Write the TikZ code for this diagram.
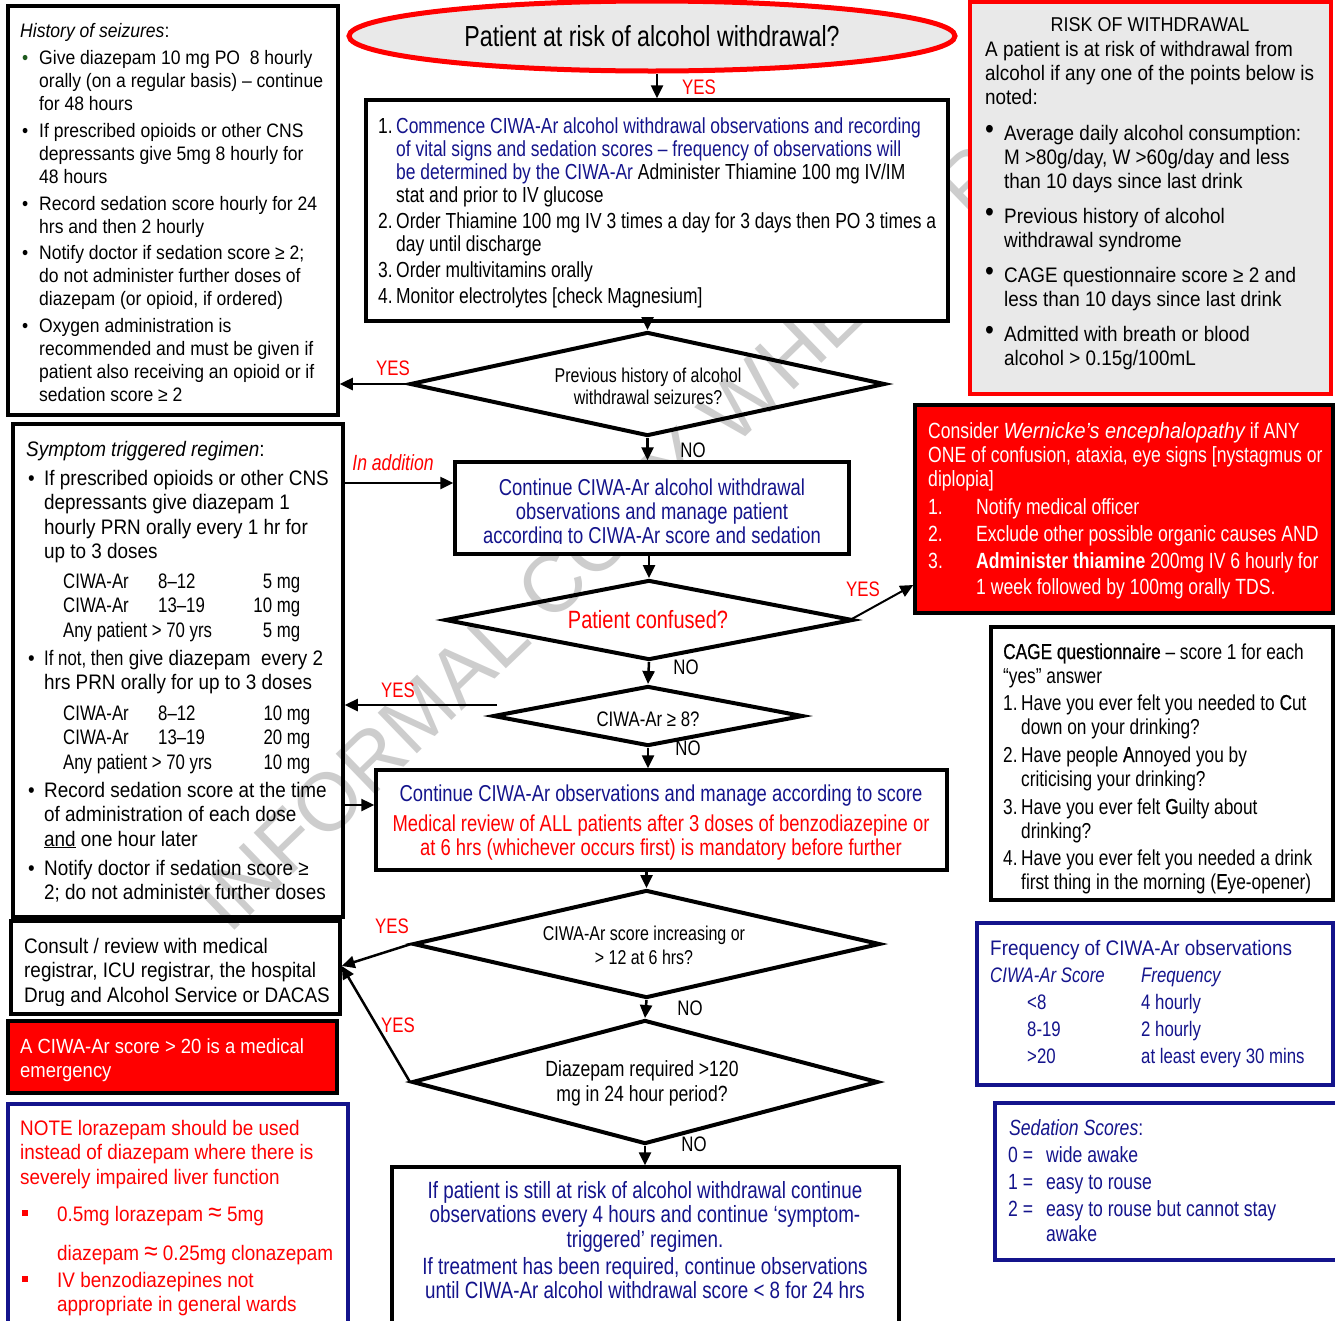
\documentclass[tikz,border=0pt]{standalone}
\usepackage{fontspec}
\setmainfont[FakeStretch=0.9]{Liberation Sans}
\newfontfamily\nar[FakeStretch=0.8]{Liberation Sans}
\newfontfamily\semib[FakeStretch=0.8,FakeBold=0.7]{Liberation Sans}
\newfontfamily\wmfont{Liberation Sans}
\usetikzlibrary{shapes.geometric,arrows.meta}
\definecolor{navy}{RGB}{20,20,140}
\definecolor{wred}{RGB}{255,0,0}
\definecolor{lgrey}{RGB}{233,233,233}
\definecolor{wmgrey}{RGB}{205,205,205}
\definecolor{bgreen}{RGB}{30,90,30}
\newcommand{\fsz}[2]{\fontsize{#1}{#2}\selectfont}
\newcommand{\hb}[1]{\makebox[#1][l]}
\newcommand{\mc}[1]{\multicolumn{2}{@{}l@{}}{#1}}
\newcommand{\apx}{{\fsz{27}{20}≈}}
\tikzset{
  box/.style={draw=black, line width=3.5pt, inner sep=0pt},
  dia/.style={diamond, draw=black, line width=4pt, inner sep=0pt},
  arr/.style={line width=2.5pt, -{Triangle[length=13pt,width=12pt]}},
  txt/.style={inner sep=0pt, anchor=base west},
  ctxt/.style={inner sep=0pt, anchor=base},
  yeslbl/.style={inner sep=0pt, anchor=base, text=wred, font=\nar\fsz{21}{21}},
  nolbl/.style={inner sep=0pt, anchor=base, font=\nar\fsz{21}{21}},
}
\begin{document}
\begin{tikzpicture}[x=1pt,y=-1pt]
\useasboundingbox (0,0) rectangle (1335,1320);
\fill[white] (0,0) rectangle (1335,1320);

% watermark
\begin{scope}
\clip (0,0) rectangle (1335,1320);
\node[inner sep=0pt, anchor=base west, rotate=44, text=wmgrey] (wm) at (229,936)
  {\wmfont\fsz{82}{82}INFORMAL COPY WHEN PRINTED};
\end{scope}

% boxes
\node[box, minimum width=330pt, minimum height=409pt] (hist) at (173,210.5) {};
\node[box, minimum width=330pt, minimum height=493pt] (sym) at (178,670.5) {};
\node[box, minimum width=329pt, minimum height=93pt] (cons) at (175.5,967.5) {};
\node[box, fill=wred, minimum width=329pt, minimum height=72pt] (emer) at (172.5,1057) {};
\node[box, draw=navy, minimum width=340pt, minimum height=226pt] (note) at (178,1217) {};
\node[box, fill=white, minimum width=582pt, minimum height=221pt] (b1) at (657,210.5) {};
\node[box, fill=white, minimum width=394pt, minimum height=92pt] (b2) at (652,508) {};
\node[box, minimum width=571pt, minimum height=100pt] (b3) at (661.5,820) {};
\node[box, minimum width=507pt, minimum height=163pt] (b4) at (645.5,1248.5) {};
\node[box, draw=wred, line width=4.5pt, fill=lgrey, minimum width=361pt, minimum height=392pt] (risk) at (1150.5,198) {};
\node[box, fill=wred, minimum width=418pt, minimum height=208pt] (wern) at (1124,509) {};
\node[box, minimum width=342pt, minimum height=273pt] (cage) at (1162,763.5) {};
\node[box, draw=navy, minimum width=356pt, minimum height=162pt] (freq) at (1155,1004) {};
\node[box, draw=navy, minimum width=350pt, minimum height=157pt] (sed) at (1170,1181.5) {};
\node[ellipse, draw=wred, line width=5pt, fill=lgrey, inner sep=0pt, minimum width=606pt, minimum height=70pt] (ell) at (652,36) {};

% diamonds
\node[dia, minimum width=475pt, minimum height=104pt] (d1) at (647.5,384) {};
\node[dia, minimum width=408pt, minimum height=80pt] (d2) at (649,620) {};
\node[dia, minimum width=310pt, minimum height=60pt] (d3) at (648,716) {};
\node[dia, minimum width=467pt, minimum height=108pt] (d4) at (646.5,944) {};
\node[dia, minimum width=466pt, minimum height=124pt] (d5) at (645,1082) {};

% ellipse text
\node[ctxt] (ellt) at (652,46) {\nar\fsz{29}{29}Patient at risk of alcohol withdrawal?};

% history of seizures
\node[txt] (histt) at (20,37) {\fsz{19.5}{23}%
\begin{tabular}[t]{@{}l@{}l@{}}
\mc{\textit{History of seizures}:}\\[4pt]
\hb{19pt}{\hspace{2pt}\textcolor{bgreen}{•}} & Give diazepam 10 mg PO\ \ 8 hourly\\
 & orally (on a regular basis) – continue\\
 & for 48 hours\\[4pt]
\hb{19pt}{\hspace{2pt}•} & If prescribed opioids or other CNS\\
 & depressants give 5mg 8 hourly for\\
 & 48 hours\\[4pt]
\hb{19pt}{\hspace{2pt}•} & Record sedation score hourly for 24\\
 & hrs and then 2 hourly\\[3pt]
\hb{19pt}{\hspace{2pt}•} & Notify doctor if sedation score ≥ 2;\\
 & do not administer further doses of\\
 & diazepam (or opioid, if ordered)\\[4pt]
\hb{19pt}{\hspace{2pt}•} & Oxygen administration is\\
 & recommended and must be given if\\
 & patient also receiving an opioid or if\\
 & sedation score ≥ 2
\end{tabular}};

% box 1 text
\node[txt] (b1t) at (378,133) {\nar\fsz{21.8}{23}%
\begin{tabular}[t]{@{}l@{}l@{}}
\hb{18pt}{1.} & \textcolor{navy}{Commence CIWA-Ar alcohol withdrawal observations and recording}\\
 & \textcolor{navy}{of vital signs and sedation scores – frequency of observations will}\\
 & \textcolor{navy}{be determined by the CIWA-Ar} Administer Thiamine 100 mg IV/IM\\
 & stat and prior to IV glucose\\[3pt]
\hb{18pt}{2.} & Order Thiamine 100 mg IV 3 times a day for 3 days then PO 3 times a\\
 & day until discharge\\[3pt]
\hb{18pt}{3.} & Order multivitamins orally\\[3pt]
\hb{18pt}{4.} & Monitor electrolytes [check Magnesium]
\end{tabular}};

% risk of withdrawal
\node[ctxt] (riskh) at (1150,31) {\fsz{20}{20}RISK OF WITHDRAWAL};
\node[txt] (riskt) at (985,56) {\fsz{21}{24}%
\begin{tabular}[t]{@{}l@{}l@{}}
\mc{A patient is at risk of withdrawal from}\\
\mc{alcohol if any one of the points below is}\\
\mc{noted:}\\[12pt]
\hb{19pt}{\smash{\raisebox{2pt}{\fsz{28}{28}•}}} & Average daily alcohol consumption:\\
 & M >80g/day, W >60g/day and less\\
 & than 10 days since last drink\\[11pt]
\hb{19pt}{\smash{\raisebox{2pt}{\fsz{28}{28}•}}} & Previous history of alcohol\\
 & withdrawal syndrome\\[11pt]
\hb{19pt}{\smash{\raisebox{2pt}{\fsz{28}{28}•}}} & CAGE questionnaire score ≥ 2 and\\
 & less than 10 days since last drink\\[11pt]
\hb{19pt}{\smash{\raisebox{2pt}{\fsz{28}{28}•}}} & Admitted with breath or blood\\
 & alcohol > 0.15g/100mL
\end{tabular}};

% symptom triggered regimen
\node[txt] (symt) at (26,456) {\fsz{21}{24.5}%
\begin{tabular}[t]{@{}l@{}l@{}}
\mc{\textit{Symptom triggered regimen}:}\\[4.5pt]
\hb{18pt}{\hspace{2pt}•} & If prescribed opioids or other CNS\\
 & depressants give diazepam 1\\
 & hourly PRN orally every 1 hr for\\
 & up to 3 doses\\[5pt]
 & {\nar\hspace{19pt}\hb{95pt}{CIWA-Ar}\hb{0pt}{8–12}\makebox[142pt][r]{5 mg}}\\
 & {\nar\hspace{19pt}\hb{95pt}{CIWA-Ar}\hb{0pt}{13–19}\makebox[142pt][r]{10 mg}}\\
 & {\nar\hspace{19pt}\hb{95pt}{Any patient > 70 yrs}\makebox[142pt][r]{5 mg}}\\[3.5pt]
\hb{18pt}{\hspace{2pt}•} & {\nar If not, then} give diazepam\ \ every 2\\
 & hrs PRN orally for up to 3 doses\\[6pt]
 & {\nar\hspace{19pt}\hb{95pt}{CIWA-Ar}\hb{0pt}{8–12}\makebox[152pt][r]{10 mg}}\\
 & {\nar\hspace{19pt}\hb{95pt}{CIWA-Ar}\hb{0pt}{13–19}\makebox[152pt][r]{20 mg}}\\
 & {\nar\hspace{19pt}\hb{95pt}{Any patient > 70 yrs}\makebox[152pt][r]{10 mg}}\\[3.5pt]
\hb{18pt}{\hspace{2pt}•} & Record sedation score at the time\\
 & of administration of each dose\\
 & \underline{and} one hour later\\[4.5pt]
\hb{18pt}{\hspace{2pt}•} & Notify doctor if sedation score ≥\\
 & 2; do not administer further doses
\end{tabular}};

% box 2 text
\begin{scope}
\clip (455,462) rectangle (849,543);
\node[ctxt, text=navy] (b2t) at (652,495) {\nar\fsz{23}{24}%
\begin{tabular}[t]{@{}c@{}}
Continue CIWA-Ar alcohol withdrawal\\
observations and manage patient\\
according to CIWA-Ar score and sedation
\end{tabular}};
\end{scope}

% diamond texts
\node[ctxt] (d1t) at (648,382) {\nar\fsz{20}{22}%
\begin{tabular}[t]{@{}c@{}}Previous history of alcohol\\withdrawal seizures?\end{tabular}};
\node[ctxt, text=wred] (d2t) at (648,628) {\nar\fsz{25}{25}Patient confused?};
\node[ctxt] (d3t) at (648,726) {\nar\fsz{21}{21}CIWA-Ar ≥ 8?};
\node[ctxt] (d4t) at (644,940) {\nar\fsz{20}{24}%
\begin{tabular}[t]{@{}c@{}}CIWA-Ar score increasing or\\> 12 at 6 hrs?\end{tabular}};
\node[ctxt] (d5t) at (642,1076) {\nar\fsz{22}{25}%
\begin{tabular}[t]{@{}c@{}}Diazepam required >120\\mg in 24 hour period?\end{tabular}};

% box 3 text
\node[ctxt] (b3t) at (661,801) {\nar\fsz{23}{24}%
\begin{tabular}[t]{@{}c@{}}
\textcolor{navy}{Continue CIWA-Ar observations and manage according to score}\\[6pt]
\textcolor{wred}{Medical review of ALL patients after 3 doses of benzodiazepine or}\\
\textcolor{wred}{at 6 hrs (whichever occurs first) is mandatory before further}
\end{tabular}};

% box 4 text
\node[ctxt, text=navy] (b4t) at (645,1198) {\nar\fsz{23.5}{24.5}%
\begin{tabular}[t]{@{}c@{}}
If patient is still at risk of alcohol withdrawal continue\\
observations every 4 hours and continue ‘symptom-\\
triggered’ regimen.\\[2.5pt]
If treatment has been required, continue observations\\
until CIWA-Ar alcohol withdrawal score < 8 for 24 hrs
\end{tabular}};

% Wernicke
\node[txt, text=white] (wernt) at (928,438) {\nar\fsz{22}{24}%
\begin{tabular}[t]{@{}l@{}l@{}}
\mc{Consider {\rmfamily\itshape Wernicke’s encephalopathy} if ANY}\\
\mc{ONE of confusion, ataxia, eye signs [nystagmus or}\\
\mc{diplopia]}\\[4pt]
\hb{48pt}{1.} & Notify medical officer\\[3pt]
\hb{48pt}{2.} & Exclude other possible organic causes AND\\[3pt]
\hb{48pt}{3.} & \textbf{Administer thiamine} 200mg IV 6 hourly for\\[2pt]
 & 1 week followed by 100mg orally TDS.
\end{tabular}};

% CAGE
\begin{scope}
\clip (991,627) rectangle (1333,893);
\node[txt] (caget) at (1003,659) {\nar\fsz{21.6}{24}%
\begin{tabular}[t]{@{}l@{}l@{}}
\mc{{\semib CAGE questionnaire} – score 1 for each}\\
\mc{“yes” answer}\\[3pt]
\hb{18pt}{1.} & Have you ever felt you needed to {\semib C}ut\\
 & down on your drinking?\\[4pt]
\hb{18pt}{2.} & Have people {\semib A}nnoyed you by\\
 & criticising your drinking?\\[4pt]
\hb{18pt}{3.} & Have you ever felt {\semib G}uilty about\\
 & drinking?\\[3pt]
\hb{18pt}{4.} & Have you ever felt you needed a drink\\
 & first thing in the morning ({\semib E}ye-opener)
\end{tabular}};
\end{scope}

% frequency
\node[txt, text=navy] (freqt) at (990,955) {\fsz{21}{27}%
\begin{tabular}[t]{@{}l@{}l@{}}
\mc{Frequency of CIWA-Ar observations}\\
{\nar\itshape\hb{151pt}{CIWA-Ar Score}} & {\nar\itshape Frequency}\\
{\nar\hspace{37pt}\hb{114pt}{<8}} & {\nar 4 hourly}\\
{\nar\hspace{37pt}\hb{114pt}{8-19}} & {\nar 2 hourly}\\
{\nar\hspace{37pt}\hb{114pt}{>20}} & {\nar at least every 30 mins}
\end{tabular}};

% sedation
\node[txt, text=navy] (sedt) at (1008,1135) {\nar\fsz{22}{27}%
\begin{tabular}[t]{@{}l@{}l@{}}
\mc{\hspace{1pt}\textit{Sedation Scores}:}\\
\hb{38pt}{0 =} & wide awake\\
\hb{38pt}{1 =} & easy to rouse\\
\hb{38pt}{2 =} & easy to rouse but cannot stay\\[-2pt]
 & awake
\end{tabular}};

% consult
\begin{scope}
\clip (11,921) rectangle (340,1005);
\node[txt] (const) at (24,953) {\fsz{21}{24.5}%
\begin{tabular}[t]{@{}l@{}}
Consult / review with medical\\
registrar, ICU registrar, the hospital\\
Drug and Alcohol Service or DACAS
\end{tabular}};
\end{scope}

% emergency
\node[txt, text=white] (emert) at (20,1053) {\fsz{20.5}{24}%
\begin{tabular}[t]{@{}l@{}}A CIWA-Ar score > 20 is a medical\\emergency\end{tabular}};

% note
\node[txt, text=wred] (notet) at (20,1135) {\fsz{21}{24.5}%
\begin{tabular}[t]{@{}l@{}l@{}}
\mc{NOTE lorazepam should be used}\\
\mc{instead of diazepam where there is}\\
\mc{severely impaired liver function}\\[12.5pt]
\hb{37pt}{\hspace{2pt}\raisebox{5pt}{\rule{6pt}{6pt}}} & 0.5mg lorazepam \apx{} 5mg\\[14.5pt]
 & diazepam \apx{} 0.25mg clonazepam\\[2.5pt]
\hb{37pt}{\hspace{2pt}\raisebox{5pt}{\rule{6pt}{6pt}}} & IV benzodiazepines not\\
 & appropriate in general wards
\end{tabular}};

% connectors
\draw[arr] (b1.north |- ell.south) -- (b1.north);
\draw[arr] (d1.north |- b1.south) -- (d1.north);
\draw[arr] (d1.west) -- (hist.east |- d1.west);
\draw[arr] (d1.south) -- (d1.south |- b2.north);
\draw[arr] (sym.east |- 0,483) -- (b2.west |- 0,483);
\draw[arr] (d2.north |- b2.south) -- (d2.north);
\draw[line width=2pt, -{Triangle[length=13pt,width=12pt]}] ([xshift=-5pt]d2.east) -- (wern.west |- 0,585);
\draw[arr] (d2.south) -- (d3.north);
\coordinate (d3y) at (497,705);
\draw[arr] (d3y) -- (sym.east |- d3y);
\draw[arr] (d3.south) -- (d3.south |- b3.north);
\draw[arr] (sym.east |- 0,805) -- (b3.west |- 0,805);
\draw[arr] (d4.north |- b3.south) -- (d4.north);
\draw[arr] (d4.west) -- (cons.east |- 0,966);
\draw[arr] (d4.south) -- (d5.north);
\draw[arr] (d5.west) -- (cons.east |- 0,966);
\draw[arr] (d5.south) -- (d5.south |- b4.north);

% labels
\begin{scope}
\clip (660,60) rectangle (740,93);
\node[yeslbl] (y0) at (699,94) {YES};
\end{scope}
\node[yeslbl] (y1) at (393,375) {YES};
\node[nolbl] (n1) at (693,457) {NO};
\node[inner sep=0pt, anchor=base, text=wred] (inadd) at (393,470) {\nar\fsz{22}{22}\itshape In addition};
\node[yeslbl] (y2) at (863,596) {YES};
\node[nolbl] (n2) at (686,674) {NO};
\node[yeslbl] (y3) at (398,697) {YES};
\node[nolbl] (n3) at (688,755) {NO};
\node[yeslbl] (y4) at (392,933) {YES};
\node[nolbl] (n4) at (690,1015) {NO};
\node[yeslbl] (y5) at (398,1032) {YES};
\node[nolbl] (n5) at (694,1151) {NO};
\end{tikzpicture}
\end{document}
